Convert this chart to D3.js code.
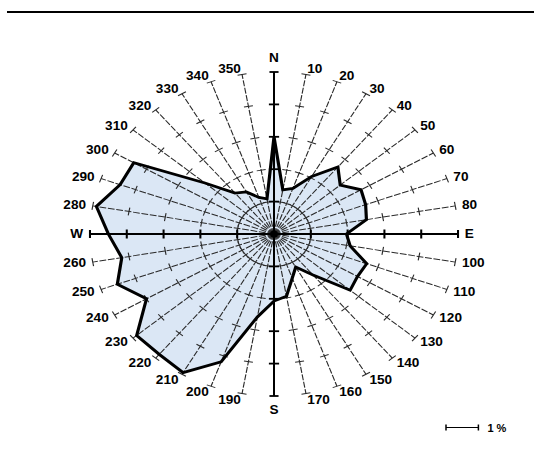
<!DOCTYPE html>
<html>
<head>
<meta charset="utf-8">
<script src="https://cdn.jsdelivr.net/npm/d3@7"></script>
<style>
  html, body { margin: 0; padding: 0; background: #fff; }
  svg { display: block; }
  text { font-family: "Liberation Sans", Arial, sans-serif; font-weight: bold; fill: #000; }
</style>
</head>
<body>
<script>
// ---- data ----
const directions = [0,10,20,30,40,50,60,70,80,90,100,110,120,130,140,150,160,170,
                    180,190,200,210,220,230,240,250,260,270,280,290,300,310,320,330,340,350];
const frequency  = [3.0,1.38,1.5,2.05,2.7,2.35,2.73,2.65,2.55,1.97,2.1,2.68,2.62,2.7,1.65,1.18,1.45,1.95,
                    2.07,2.6,4.2,4.94,4.85,4.87,4.0,4.53,4.2,4.5,4.9,4.45,4.4,2.45,1.65,1.5,1.2,1.1];
const cardinalDirs   = [0, 90, 180, 270];
const cardinalLabels = ["N", "E", "S", "W"];
const ringTicks = [1, 2, 3, 4, 5];
const maxValue = 5;
const scaleBarValue = 1;
const scaleBarLabel = "1 %";

// ---- layout ----
const W = 534, H = 457;
const cx = 274, cy = 234, sx = 1.136;
const svg = d3.select("body").append("svg").attr("width", W).attr("height", H);

svg.append("line").attr("x1", 7).attr("x2", 534).attr("y1", 12).attr("y2", 12)
   .attr("stroke", "#000").attr("stroke-width", 2);

const rScale = d3.scaleLinear().domain([0, maxValue]).range([0, 162]);
const rad = d => d * Math.PI / 180;

const g = svg.append("g").attr("transform", `translate(${cx},${cy}) scale(${sx},1)`);

const data = directions.map((d, i) => ({dir: d, value: frequency[i]}));

const radial = d3.lineRadial()
  .angle(d => rad(d.dir))
  .radius(d => rScale(d.value))
  .curve(d3.curveLinearClosed);

// polygon fill
g.append("path").datum(data).attr("d", radial)
  .attr("fill", "#dbe7f5").attr("stroke", "none");

const pt = (dir, r) => [Math.sin(rad(dir)) * r, -Math.cos(rad(dir)) * r];

// spokes
const minor = directions.filter(d => !cardinalDirs.includes(d));
g.selectAll("line.spoke").data(minor).join("line").attr("class", "spoke")
  .attr("x1", 0).attr("y1", 0)
  .attr("x2", d => pt(d, rScale(maxValue))[0])
  .attr("y2", d => pt(d, rScale(maxValue))[1])
  .attr("stroke", "#2a2a2a").attr("stroke-width", 1).attr("stroke-dasharray", "6,1.5");

// ticks on spokes
const tickData = [];
minor.forEach(d => ringTicks.forEach(t => tickData.push({dir: d, t})));
g.selectAll("line.stick").data(tickData).join("line").attr("class", "stick")
  .each(function(d) {
    const [px, py] = pt(d.dir, rScale(d.t));
    const nx = Math.cos(rad(d.dir)) * 4, ny = Math.sin(rad(d.dir)) * 4;
    d3.select(this).attr("x1", px - nx).attr("y1", py - ny).attr("x2", px + nx).attr("y2", py + ny);
  })
  .attr("stroke", "#2a2a2a").attr("stroke-width", 1);

// cardinal axes
g.selectAll("line.axis").data(cardinalDirs).join("line").attr("class", "axis")
  .attr("x1", 0).attr("y1", 0)
  .attr("x2", d => pt(d, rScale(maxValue))[0])
  .attr("y2", d => pt(d, rScale(maxValue))[1])
  .attr("stroke", "#000").attr("stroke-width", 1.8);
const cTicks = [];
cardinalDirs.forEach(d => ringTicks.forEach(t => cTicks.push({dir: d, t})));
g.selectAll("line.ctick").data(cTicks).join("line").attr("class", "ctick")
  .each(function(d) {
    const [px, py] = pt(d.dir, rScale(d.t));
    const L = d.t === maxValue ? 4 : 4.5;
    const nx = Math.cos(rad(d.dir)) * L, ny = Math.sin(rad(d.dir)) * L;
    d3.select(this).attr("x1", px - nx).attr("y1", py - ny).attr("x2", px + nx).attr("y2", py + ny);
  })
  .attr("stroke", "#000").attr("stroke-width", 1.8);

g.append("circle").attr("r", 3.5).attr("fill", "#000");

// polygon outline
g.append("path").datum(data).attr("d", radial)
  .attr("fill", "none").attr("stroke", "#000").attr("stroke-width", 2.8)
  .attr("stroke-linejoin", "miter");

// degree labels
g.selectAll("text.deg").data(minor).join("text").attr("class", "deg")
  .attr("x", d => pt(d, rScale(maxValue) + 6)[0])
  .attr("y", d => pt(d, rScale(maxValue) + 6)[1])
  .attr("text-anchor", d => Math.sin(rad(d)) > 0 ? "start" : "end")
  .attr("dominant-baseline", "central")
  .attr("font-size", 12)
  .text(d => d);

// cardinal labels
g.selectAll("text.card").data(cardinalDirs).join("text").attr("class", "card")
  .attr("x", d => (d === 0 || d === 180) ? 0 : pt(d, rScale(maxValue) + 6)[0])
  .attr("y", d => (d === 0 || d === 180) ? pt(d, rScale(maxValue) + 14)[1] : 0)
  .attr("text-anchor", d => d === 90 ? "start" : d === 270 ? "end" : "middle")
  .attr("dominant-baseline", "central")
  .attr("font-size", 12)
  .text((d, i) => cardinalLabels[i]);

// scale bar
const bx = 446, by = 427.5, bl = rScale(scaleBarValue);
const sb = svg.append("g");
sb.append("line").attr("x1", bx).attr("x2", bx + bl).attr("y1", by).attr("y2", by).attr("stroke", "#000").attr("stroke-width", 1);
sb.append("line").attr("x1", bx).attr("x2", bx).attr("y1", by - 3).attr("y2", by + 3).attr("stroke", "#000").attr("stroke-width", 1.5);
sb.append("line").attr("x1", bx + bl).attr("x2", bx + bl).attr("y1", by - 3).attr("y2", by + 3).attr("stroke", "#000").attr("stroke-width", 1.5);
sb.append("text").attr("x", bx + bl + 9).attr("y", by).attr("dominant-baseline", "central")
  .attr("font-size", 11).text(scaleBarLabel);
</script>
</body>
</html>
